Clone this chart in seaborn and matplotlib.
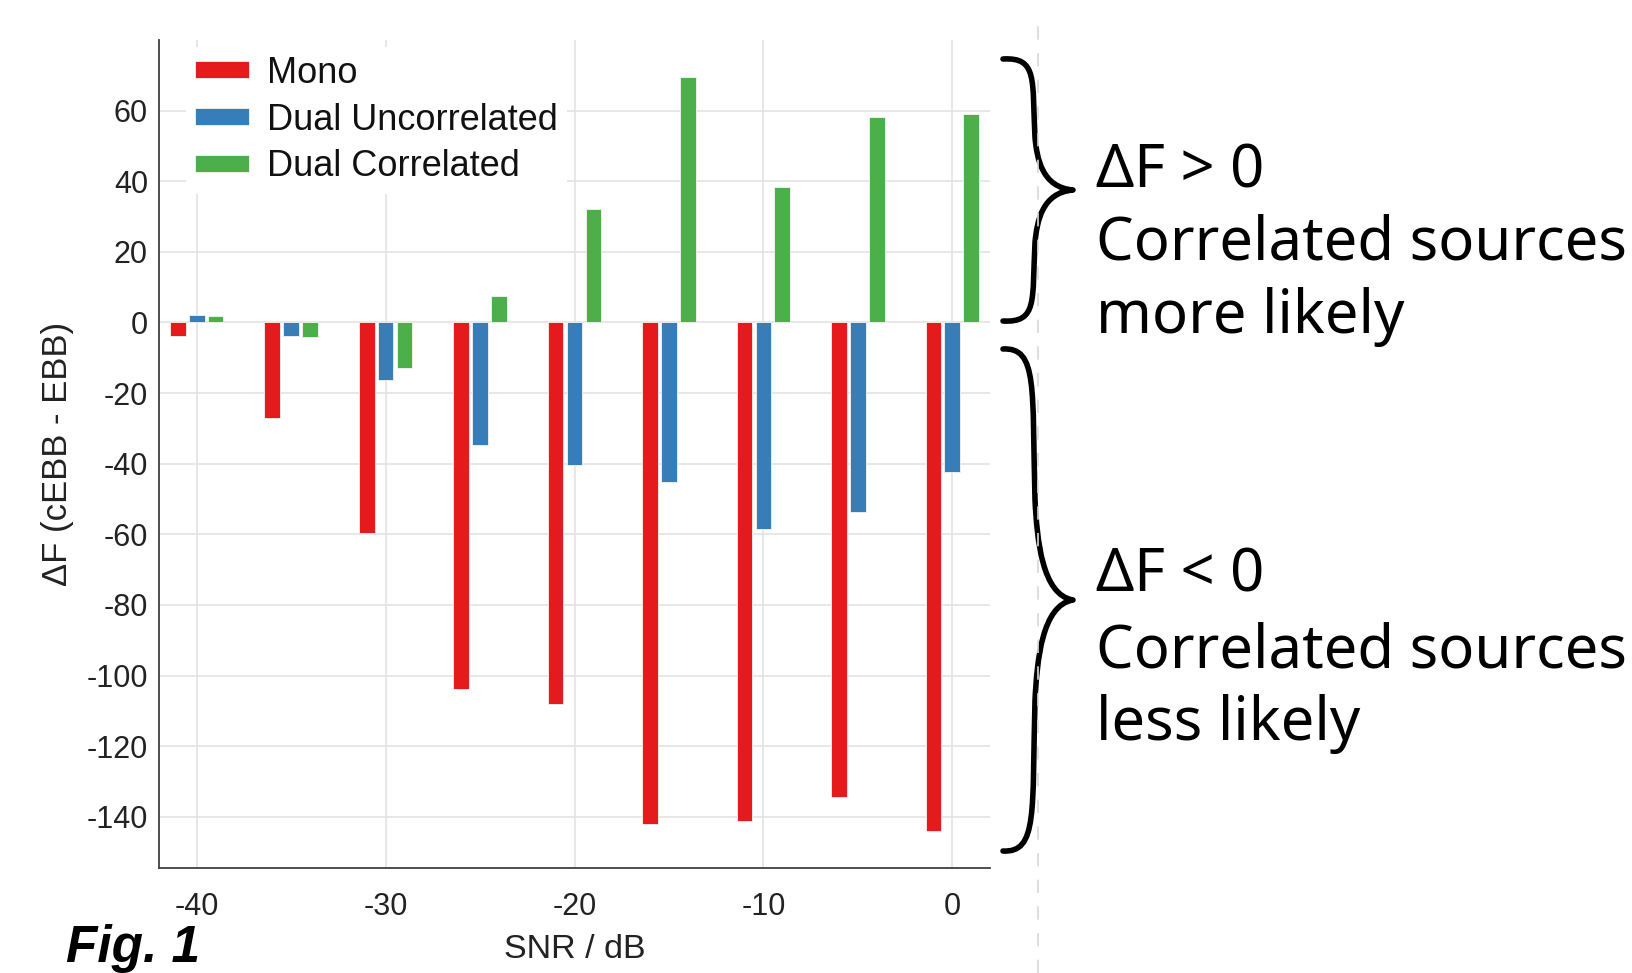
import pandas as pd
import matplotlib.pyplot as plt
import seaborn as sns
from matplotlib.path import Path
from matplotlib.patches import PathPatch
from matplotlib.lines import Line2D

snr = [-40, -35, -30, -25, -20, -15, -10, -5, 0]
mono = [-3.8, -27, -59.7, -103.8, -108, -142, -141.3, -134.3, -144]
dual_uncorr = [2.2, -3.7, -16.3, -34.6, -40.5, -45.2, -58.5, -53.8, -42.3]
dual_corr = [1.9, -4.2, -13, 7.6, 32, 69.5, 38.5, 58.3, 59]
conditions = ['Mono', 'Dual Uncorrelated', 'Dual Correlated']
colors = ['#E41A1C', '#377EB8', '#4DAF4A']
x_ticks = [-40, -30, -20, -10, 0]
y_ticks = [-140, -120, -100, -80, -60, -40, -20, 0, 20, 40, 60]

W, H = 1633, 973


def brace(fig, x_end, y_top, y_bot, x_spine, x_tip):
    # curly brace "}" in pixel coords (y from the top)
    ym = (y_top + y_bot) / 2
    h = y_bot - y_top
    pts = [
        (x_end, y_top),
        (x_spine + 2, y_top - 2), (x_spine - 4, y_top + h * 0.08), (x_spine - 1, y_top + h * 0.3),
        (x_spine + 1, ym - h * 0.12), (x_spine + 6, ym - h * 0.01), (x_tip, ym),
        (x_spine + 6, ym + h * 0.01), (x_spine + 1, ym + h * 0.12), (x_spine - 1, y_bot - h * 0.3),
        (x_spine - 4, y_bot - h * 0.08), (x_spine + 2, y_bot + 2), (x_end, y_bot),
    ]
    codes = [Path.MOVETO] + [Path.CURVE4] * 12
    verts = [(x / W, 1 - y / H) for x, y in pts]
    fig.patches.append(PathPatch(Path(verts, codes), transform=fig.transFigure,
                                 fill=False, lw=4, color='black', capstyle='round',
                                 joinstyle='round'))


def draw():
    sns.set_theme(style='whitegrid')
    plt.rcParams['font.family'] = ['Liberation Sans', 'DejaVu Sans']
    plt.rcParams['axes.unicode_minus'] = False

    df = pd.DataFrame({
        'snr': snr * 3,
        'dF': mono + dual_uncorr + dual_corr,
        'cond': [c for c in conditions for _ in snr],
    })

    fig = plt.figure(figsize=(W / 100, H / 100), dpi=100)
    ax = fig.add_axes([159 / W, 1 - 868 / H, 831 / W, 828 / H])

    sns.barplot(data=df, x='snr', y='dF', hue='cond', hue_order=conditions,
                palette=colors, native_scale=True, width=0.6, gap=0.17,
                errorbar=None, saturation=1, edgecolor='#f4f4f4', linewidth=0.6,
                ax=ax)

    ax.set_xlim(-42, 2)
    ax.set_ylim(-154.5, 80)
    ax.set_xticks(x_ticks)
    ax.set_yticks(y_ticks)
    ax.set_xticklabels([str(t) for t in x_ticks])
    ax.grid(True, color='#e3e3e3', lw=1.2)
    ax.set_facecolor('white')
    for s in ['top', 'right']:
        ax.spines[s].set_visible(False)
    for s in ['left', 'bottom']:
        ax.spines[s].set_visible(True)
        ax.spines[s].set_color('#404040')
        ax.spines[s].set_linewidth(1.3)
    ax.tick_params(axis='both', direction='in', length=5, width=1.2, color='#404040',
                   labelsize=22, labelcolor='#222222')
    ax.tick_params(axis='x', pad=17)
    ax.tick_params(axis='y', pad=8)
    ax.set_xlabel('SNR / dB', fontsize=24.5, color='#222222', labelpad=9)
    ax.set_ylabel('ΔF (cEBB - EBB)', fontsize=25, color='#222222', labelpad=9)

    handles, labels = ax.get_legend_handles_labels()
    leg = ax.legend(handles, labels, loc='upper left', bbox_to_anchor=(0.032, 0.992),
                    borderaxespad=0, fontsize=26, handlelength=1.5, handleheight=0.33,
                    handletextpad=0.5, labelspacing=0.33, borderpad=0.25,
                    frameon=True, fancybox=False, facecolor='white', edgecolor='none',
                    framealpha=1)
    for t in leg.get_texts():
        t.set_color('#111111')

    # faint dashed separator
    fig.add_artist(Line2D([1038 / W, 1038 / W], [0.0, 0.98], transform=fig.transFigure,
                          color='#d8d8d8', lw=1.2, linestyle=(0, (8, 8))))

    brace(fig, 1003, 59, 321, 1036, 1073)
    brace(fig, 1003, 349, 851, 1036, 1073)

    side = dict(fontsize=43, family=['Noto Sans', 'DejaVu Sans'], color='black', va='baseline')
    fig.text(1096 / W, 1 - 187 / H, 'ΔF > 0', **side)
    fig.text(1096 / W, 1 - 260 / H, 'Correlated sources', **side)
    fig.text(1096 / W, 1 - 333 / H, 'more likely', **side)
    fig.text(1096 / W, 1 - 592 / H, 'ΔF < 0', **side)
    fig.text(1096 / W, 1 - 667 / H, 'Correlated sources', **side)
    fig.text(1096 / W, 1 - 740 / H, 'less likely', **side)

    fig.text(66 / W, 1 - 962 / H, 'Fig. 1', fontsize=37, fontweight='bold', fontstyle='italic',
             va='baseline', color='black')

    fig.savefig('out.png', dpi=100)


if __name__ == '__main__':
    draw()
